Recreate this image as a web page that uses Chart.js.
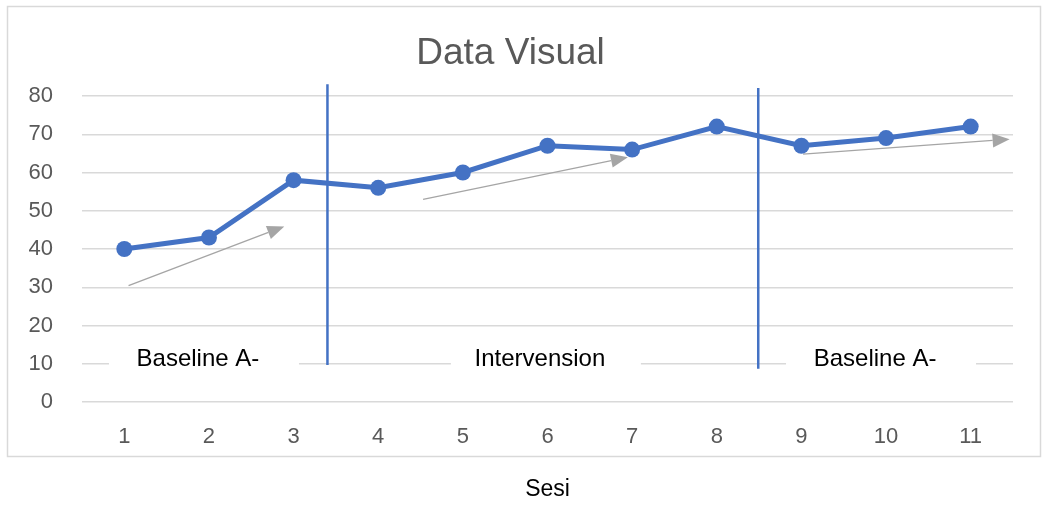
<!DOCTYPE html>
<html><head><meta charset="utf-8">
<script src="https://cdn.jsdelivr.net/npm/chart.js@4"></script>
<style>html,body{margin:0;padding:0;background:#fff;} #wrap{width:1048px;height:505px;position:relative}</style>
</head><body><div id="wrap"><canvas id="c" width="1048" height="505"></canvas></div>
<script>
// ---- data ----
const sessions = [1,2,3,4,5,6,7,8,9,10,11];
const scores = [40,43,58,56,60,67,66,72,67,69,72];
const yTicks = [0,10,20,30,40,50,60,70,80];
const phaseBoundaryX = [3.4, 8.49];
const phaseBoundaryTop = [83.1, 82.1];
const phaseBoundaryBottom = [9.7, 8.7];
const phaseNames = ['Baseline A-', 'Intervension', 'Baseline A-'];
const phaseNameX = [1.87, 5.91, 9.87];
const phaseNameY = [11.4, 11.4, 11.4];
const trendStartX = [1.05, 4.53, 9.02];
const trendStartY = [30.4, 53.0, 64.8];
const trendEndX = [2.89, 6.95, 11.46];
const trendEndY = [45.9, 64.0, 68.7];
const xTitle = 'Sesi';
const chartTitle = 'Data Visual';

const FONT = "'Liberation Sans', Arial, sans-serif";
const BLUE = '#4472C4';

const overlay = {
  id: 'overlay',
  beforeDraw(chart) {
    const {ctx, width, height} = chart;
    ctx.save();
    ctx.fillStyle = '#fff';
    ctx.fillRect(0, 0, width, height);
    ctx.strokeStyle = '#d9d9d9';
    ctx.lineWidth = 1.5;
    ctx.strokeRect(7.5, 6.5, width - 15, height - 55);
    ctx.restore();
  },
  beforeDatasetsDraw(chart) {
    const {ctx} = chart;
    const xs = chart.scales.x, ys = chart.scales.y;
    ctx.save();
    // phase labels with white background
    ctx.font = '24px ' + FONT;
    ctx.textAlign = 'center';
    ctx.textBaseline = 'middle';
    phaseNames.forEach((name, i) => {
      const px = xs.getPixelForValue(phaseNameX[i]);
      const py = ys.getPixelForValue(phaseNameY[i]);
      ctx.fillStyle = '#fff';
      ctx.fillRect(px - 89, py - 14, 190, 28);
      ctx.fillStyle = '#000';
      ctx.fillText(name, px, py + 1);
    });
    // trend arrows
    ctx.strokeStyle = '#A5A5A5';
    ctx.fillStyle = '#A5A5A5';
    ctx.lineWidth = 1.3;
    trendStartX.forEach((sx, i) => {
      const x1 = xs.getPixelForValue(sx), y1 = ys.getPixelForValue(trendStartY[i]);
      const x2 = xs.getPixelForValue(trendEndX[i]), y2 = ys.getPixelForValue(trendEndY[i]);
      const ang = Math.atan2(y2 - y1, x2 - x1);
      const L = 17, W = 7;
      const bx = x2 - L * Math.cos(ang), by = y2 - L * Math.sin(ang);
      ctx.beginPath();
      ctx.moveTo(x1, y1);
      ctx.lineTo(bx, by);
      ctx.stroke();
      ctx.beginPath();
      ctx.moveTo(x2, y2);
      ctx.lineTo(bx + W * Math.sin(ang), by - W * Math.cos(ang));
      ctx.lineTo(bx - W * Math.sin(ang), by + W * Math.cos(ang));
      ctx.closePath();
      ctx.fill();
    });
    ctx.restore();
  }
};

const datasets = [{
  label: 'Skor',
  data: sessions.map((s, i) => ({x: s, y: scores[i]})),
  borderColor: BLUE,
  backgroundColor: BLUE,
  borderWidth: 5,
  pointRadius: 8,
  pointHoverRadius: 8,
  pointBorderWidth: 0,
  tension: 0,
  order: 1
}];
phaseBoundaryX.forEach((bx, i) => {
  datasets.push({
    label: 'phase' + i,
    data: [{x: bx, y: phaseBoundaryTop[i]}, {x: bx, y: phaseBoundaryBottom[i]}],
    borderColor: BLUE,
    borderWidth: 2.5,
    pointRadius: 0,
    clip: false,
    order: 2
  });
});

new Chart(document.getElementById('c'), {
  type: 'line',
  data: {datasets},
  plugins: [overlay],
  options: {
    responsive: false,
    animation: false,
    layout: {padding: {left: 8, right: 35, top: 9, bottom: 0}},
    plugins: {
      legend: {display: false},
      tooltip: {enabled: false},
      title: {
        display: true,
        text: chartTitle,
        color: '#595959',
        font: {family: FONT, size: 37, weight: 'normal'},
        padding: {top: 22.4, bottom: 20.2}
      }
    },
    scales: {
      x: {
        type: 'linear',
        min: 0.5, max: 11.5,
        afterBuildTicks: s => { s.ticks = sessions.map(v => ({value: v})); },
        afterFit: s => { s.height = 103; },
        grid: {display: false, drawTicks: false},
        border: {display: false},
        ticks: {color: '#595959', font: {family: FONT, size: 22}, padding: 22, autoSkip: false, maxRotation: 0},
        title: {display: true, text: xTitle, color: '#000', font: {family: FONT, size: 23}, padding: {top: 0, bottom: 2}}
      },
      y: {
        min: 0, max: 80,
        afterBuildTicks: s => { s.ticks = yTicks.map(v => ({value: v})); },
        afterFit: s => { s.width = 74; },
        grid: {color: '#d9d9d9', lineWidth: 1.5, drawTicks: false},
        border: {display: false},
        ticks: {color: '#595959', font: {family: FONT, size: 22}, padding: 29}
      }
    }
  }
});
</script>
</body></html>
